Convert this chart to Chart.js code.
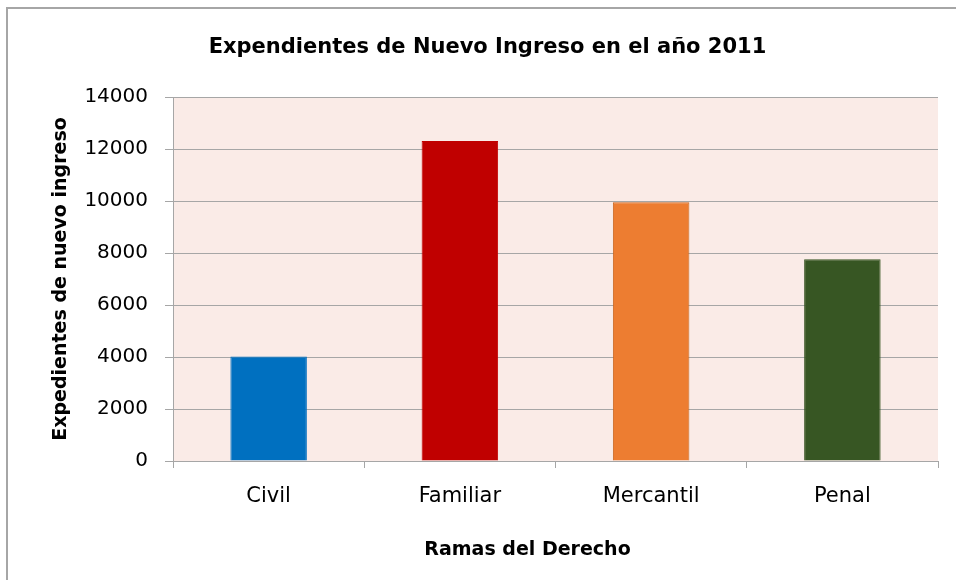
<!DOCTYPE html>
<html>
<head>
<meta charset="utf-8">
<script src="https://cdn.jsdelivr.net/npm/chart.js@4/dist/chart.umd.min.js"></script>
<style>
  html, body { margin: 0; padding: 0; background: #ffffff; }
  #wrap { width: 956px; height: 580px; position: relative; }
</style>
</head>
<body>
<div id="wrap"><canvas id="c" width="956" height="580"></canvas></div>
<script>
const categories = ['Civil', 'Familiar', 'Mercantil', 'Penal'];
const expedientes = [4020, 12310, 9950, 7760];
const barColors = ['#0070C0', '#C00000', '#ED7D31', '#375623'];
const barBorders = ['#0070C0', '#C00000', '#C8651F', '#375623'];
const yTicks = [0, 2000, 4000, 6000, 8000, 10000, 12000, 14000];
const chartTitle = 'Expendientes de Nuevo Ingreso en el año 2011';
const xTitle = 'Ramas del Derecho';
const yTitle = 'Expedientes de nuevo ingreso';

const FONT = "'DejaVu Sans', sans-serif";

const decor = {
  id: 'decor',
  beforeDraw(chart) {
    const {ctx, chartArea: a} = chart;
    ctx.save();
    ctx.fillStyle = '#ffffff';
    ctx.fillRect(0, 0, chart.width, chart.height);
    ctx.fillStyle = '#FAEBE7';
    ctx.fillRect(a.left, a.top, a.right - a.left, a.bottom - a.top);
    ctx.strokeStyle = '#A6A6A6';
    ctx.lineWidth = 2;
    ctx.strokeRect(7, 8, chart.width + 20, chart.height + 20);
    ctx.restore();
  },
  afterDraw(chart) {
    const {ctx, chartArea: a} = chart;
    ctx.save();
    ctx.fillStyle = '#000000';
    ctx.textAlign = 'center';
    ctx.textBaseline = 'middle';
    ctx.font = "bold 21px " + FONT;
    ctx.fillText(chartTitle, (a.left + a.right) / 2 - 68, 48);
    ctx.font = "bold 19px " + FONT;
    ctx.fillText(xTitle, (a.left + a.right) / 2 - 28, 550);
    ctx.restore();
  }
};

new Chart(document.getElementById('c'), {
  type: 'bar',
  data: {
    labels: categories,
    datasets: [{
      data: expedientes,
      backgroundColor: barColors,
      borderColor: barBorders,
      borderWidth: 1,
      barPercentage: 0.4,
      categoryPercentage: 1.0
    }]
  },
  options: {
    responsive: false,
    animation: false,
    devicePixelRatio: 1,
    layout: { padding: { left: 6, right: 18, top: 97, bottom: 0 } },
    plugins: {
      legend: { display: false },
      tooltip: { enabled: false },
      title: { display: false }
    },
    scales: {
      x: {
        grid: { display: true, drawOnChartArea: false, drawTicks: true, tickLength: 7, offset: true, color: '#A6A6A6', lineWidth: 1 },
        border: { display: true, color: '#A6A6A6', width: 1 },
        ticks: { color: '#000000', font: { family: FONT, size: 21 }, padding: 16, maxRotation: 0 },
        title: { display: false },
        afterFit(scale) { scale.height = 119; }
      },
      y: {
        min: 0,
        max: 14000,
        afterBuildTicks(scale) { scale.ticks = yTicks.map(v => ({ value: v })); },
        grid: { display: true, drawOnChartArea: true, drawTicks: true, tickLength: 8, color: '#A6A6A6', lineWidth: 1 },
        border: { display: true, color: '#A6A6A6', width: 1 },
        ticks: { color: '#000000', font: { family: FONT, size: 20 }, padding: 17, callback: v => String(v) },
        title: {
          display: true,
          text: yTitle,
          color: '#000000',
          font: { family: FONT, size: 19, weight: 'bold', lineHeight: 1.2 },
          padding: { top: 44, bottom: 0 }
        },
        afterFit(scale) { scale.width = 167; }
      }
    }
  },
  plugins: [decor]
});
</script>
</body>
</html>
